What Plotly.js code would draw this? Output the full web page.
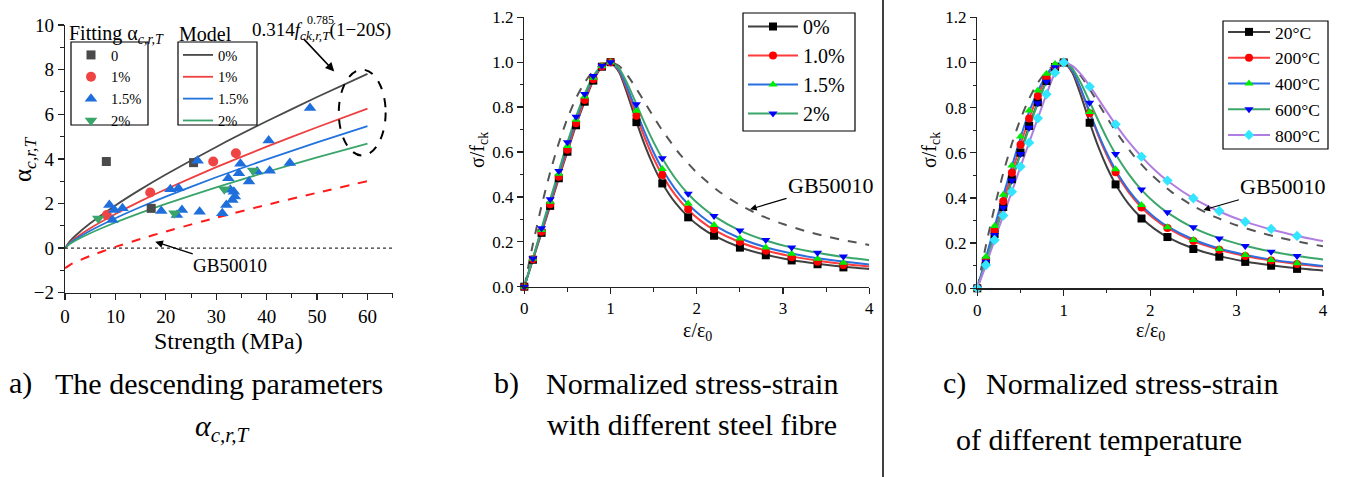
<!DOCTYPE html>
<html><head><meta charset="utf-8">
<script src="https://cdn.plot.ly/plotly-3.0.1.min.js"></script>
<style>html,body{margin:0;padding:0;background:#fff;}#chart{width:1359px;height:477px;}</style>
</head><body><div id="chart"></div>
<script>
// ---------- Panel a: descending parameter vs strength ----------
const strengthModel = [0, 1, 2, 5, 10, 15, 20, 30, 40, 50, 60];
const model0  = [0, 0.314, 0.541, 1.111, 1.914, 2.631, 3.297, 4.534, 5.683, 6.770, 7.812];
const model1  = [0, 0.251, 0.433, 0.889, 1.531, 2.105, 2.638, 3.627, 4.546, 5.416, 6.250];
const model15 = [0, 0.220, 0.379, 0.778, 1.340, 1.842, 2.308, 3.174, 3.978, 4.739, 5.468];
const model2  = [0, 0.188, 0.325, 0.667, 1.148, 1.579, 1.978, 2.720, 3.410, 4.062, 4.687];
const gbAlpha = [-0.905, -0.748, -0.635, -0.350, 0.052, 0.411, 0.744, 1.362, 1.937, 2.480, 3.001];

const fit0X = [8.2, 17.1, 25.5];
const fit0Y = [3.88, 1.78, 3.83];
const fit1X = [8.3, 16.9, 29.4, 33.9];
const fit1Y = [1.48, 2.49, 3.88, 4.25];
const fit15X = [8.8, 9.8, 11.4, 9.4, 19.1, 20.9, 22.2, 22.5, 23.2, 26.3, 26.7, 31.2, 32.0, 32.4, 32.8, 33.2, 33.5, 33.7, 34.5, 34.8, 36.5, 38.1, 40.4, 40.6, 44.6, 48.6];
const fit15Y = [1.93, 1.71, 1.78, 1.26, 1.66, 2.64, 1.48, 2.68, 1.71, 3.91, 1.63, 1.56, 1.93, 3.13, 2.61, 2.16, 2.53, 2.31, 3.36, 3.78, 2.98, 3.43, 4.82, 3.47, 3.81, 6.28];
const fit2X = [6.6, 21.7, 31.6, 37.3];
const fit2Y = [1.33, 1.56, 2.64, 3.48];

// ---------- Panels b, c: normalized stress-strain ----------
const strainLine  = [0, 0.1, 0.2, 0.3, 0.4, 0.5, 0.6, 0.7, 0.8, 0.9, 1.0, 1.1, 1.2, 1.3, 1.4, 1.5, 1.6, 1.75, 1.9, 2.05, 2.2, 2.5, 2.8, 3.1, 3.4, 3.7, 4.0];
const strainMarks = [0, 0.1, 0.2, 0.3, 0.4, 0.5, 0.6, 0.7, 0.8, 0.9, 1.0, 1.3, 1.6, 1.9, 2.2, 2.5, 2.8, 3.1, 3.4, 3.7];
const gbStrain = [0, 0.1, 0.2, 0.3, 0.4, 0.5, 0.6, 0.7, 0.8, 0.9, 1.0, 1.1, 1.2, 1.3, 1.4, 1.5, 1.6, 1.8, 2.0, 2.25, 2.5, 2.75, 3.0, 3.25, 3.5, 3.75, 4.0];
const gbStress = [0, 0.19, 0.36, 0.51, 0.64, 0.75, 0.84, 0.91, 0.96, 0.99, 1.0, 0.983, 0.939, 0.882, 0.819, 0.756, 0.696, 0.592, 0.508, 0.426, 0.364, 0.316, 0.279, 0.249, 0.224, 0.204, 0.186];

// steel fibre (panel b)
const fibreNames = ['0%', '1.0%', '1.5%', '2%'];
const fibre0Line  = [0, 0.12, 0.24, 0.36, 0.483, 0.601, 0.719, 0.824, 0.918, 0.98, 1.0, 0.955, 0.852, 0.735, 0.627, 0.536, 0.461, 0.374, 0.311, 0.263, 0.227, 0.176, 0.1425, 0.119, 0.102, 0.089, 0.079];
const fibre1Line  = [0, 0.122, 0.245, 0.367, 0.49, 0.61, 0.728, 0.832, 0.924, 0.981, 1.0, 0.961, 0.870, 0.762, 0.660, 0.571, 0.497, 0.409, 0.343, 0.292, 0.253, 0.198, 0.161, 0.135, 0.116, 0.101, 0.090];
const fibre15Line = [0, 0.125, 0.253, 0.378, 0.503, 0.627, 0.744, 0.847, 0.931, 0.983, 1.0, 0.965, 0.881, 0.781, 0.684, 0.598, 0.524, 0.435, 0.367, 0.315, 0.274, 0.216, 0.176, 0.148, 0.127, 0.112, 0.099];
const fibre2Line  = [0, 0.126, 0.26, 0.389, 0.515, 0.643, 0.757, 0.858, 0.938, 0.984, 1.0, 0.971, 0.900, 0.813, 0.724, 0.643, 0.572, 0.483, 0.413, 0.358, 0.3145, 0.250, 0.206, 0.174, 0.151, 0.132, 0.118];
const fibre0Mk  = [0, 0.12, 0.24, 0.36, 0.483, 0.601, 0.719, 0.824, 0.918, 0.98, 1.0, 0.733, 0.46, 0.309, 0.227, 0.174, 0.14, 0.117, 0.10, 0.086];
const fibre1Mk  = [0, 0.122, 0.245, 0.367, 0.49, 0.61, 0.728, 0.832, 0.924, 0.981, 1.0, 0.762, 0.497, 0.345, 0.256, 0.2, 0.16, 0.131, 0.111, 0.097];
const fibre15Mk = [0, 0.125, 0.253, 0.378, 0.503, 0.627, 0.744, 0.847, 0.931, 0.983, 1.0, 0.784, 0.524, 0.371, 0.275, 0.215, 0.175, 0.147, 0.125, 0.107];
const fibre2Mk  = [0, 0.126, 0.26, 0.389, 0.515, 0.643, 0.757, 0.858, 0.938, 0.984, 1.0, 0.813, 0.572, 0.414, 0.315, 0.25, 0.208, 0.175, 0.151, 0.134];

// temperature (panel c)
const tempNames = ['20°C', '200°C', '400°C', '600°C', '800°C'];
const temp20Line  = [0, 0.12, 0.24, 0.36, 0.483, 0.601, 0.719, 0.824, 0.918, 0.98, 1.0, 0.955, 0.852, 0.735, 0.627, 0.536, 0.461, 0.374, 0.311, 0.263, 0.227, 0.176, 0.1425, 0.119, 0.102, 0.089, 0.079];
const temp200Line = [0, 0.128, 0.258, 0.385, 0.512, 0.636, 0.752, 0.852, 0.933, 0.983, 1.0, 0.963, 0.877, 0.775, 0.676, 0.588, 0.514, 0.426, 0.358, 0.307, 0.267, 0.209, 0.171, 0.143, 0.123, 0.108, 0.096];
const temp400Line = [0, 0.137, 0.272, 0.41, 0.54, 0.667, 0.782, 0.872, 0.945, 0.99, 1.0, 0.965, 0.881, 0.781, 0.684, 0.598, 0.524, 0.435, 0.367, 0.315, 0.274, 0.216, 0.176, 0.148, 0.127, 0.112, 0.099];
const temp600Line = [0, 0.118, 0.236, 0.357, 0.477, 0.595, 0.711, 0.819, 0.915, 0.979, 1.0, 0.973, 0.908, 0.826, 0.743, 0.664, 0.595, 0.507, 0.436, 0.380, 0.335, 0.268, 0.222, 0.188, 0.163, 0.1435, 0.128];
const temp800Line = [0, 0.103, 0.214, 0.322, 0.428, 0.539, 0.645, 0.753, 0.859, 0.955, 1.0, 0.985, 0.947, 0.896, 0.839, 0.781, 0.726, 0.649, 0.583, 0.525, 0.476, 0.398, 0.340, 0.295, 0.260, 0.232, 0.209];
const temp20Mk  = [0, 0.12, 0.24, 0.36, 0.483, 0.601, 0.719, 0.824, 0.918, 0.98, 1.0, 0.733, 0.46, 0.309, 0.227, 0.174, 0.14, 0.117, 0.10, 0.086];
const temp200Mk = [0, 0.128, 0.258, 0.385, 0.512, 0.636, 0.752, 0.852, 0.933, 0.983, 1.0, 0.775, 0.514, 0.358, 0.267, 0.209, 0.171, 0.143, 0.123, 0.108];
const temp400Mk = [0, 0.14, 0.276, 0.414, 0.544, 0.672, 0.787, 0.876, 0.95, 0.993, 1.0, 0.781, 0.527, 0.369, 0.27, 0.214, 0.174, 0.147, 0.125, 0.111];
const temp600Mk = [0, 0.118, 0.236, 0.357, 0.477, 0.595, 0.711, 0.819, 0.915, 0.979, 1.0, 0.822, 0.595, 0.438, 0.337, 0.27, 0.221, 0.187, 0.162, 0.143];
const temp800Mk = [0, 0.103, 0.214, 0.322, 0.428, 0.539, 0.645, 0.753, 0.859, 0.955, 1.0, 0.893, 0.726, 0.583, 0.477, 0.399, 0.342, 0.295, 0.263, 0.232];

// ---------- build ----------
const W = 1359, H = 477;
const F = '"Liberation Serif", "Times New Roman", Times, serif';
const px = p => p / W;
const py = p => 1 - p / H;

const traces = [];

// Panel a model lines (legend2)
const modelSeries = [[model0, '0%', '#4a4a4a'], [model1, '1%', '#ee4040'], [model15, '1.5%', '#2273dd'], [model2, '2%', '#3aa56b']];
modelSeries.forEach(([y, name, c]) => traces.push({
  type: 'scatter', mode: 'lines', x: strengthModel, y, name, legend: 'legend2',
  line: {color: c, width: 1.8, shape: 'spline', smoothing: 0.6}, xaxis: 'x', yaxis: 'y', hoverinfo: 'skip'
}));
traces.push({type: 'scatter', mode: 'lines', x: strengthModel, y: gbAlpha, showlegend: false,
  line: {color: '#ff1a1a', width: 2, dash: 'dash', shape: 'spline', smoothing: 0.6}, xaxis: 'x', yaxis: 'y'});
const fitSeries = [[fit0X, fit0Y, '0', 'square', '#4a4a4a', 9], [fit1X, fit1Y, '1%', 'circle', '#ee4444', 10],
  [fit15X, fit15Y, '1.5%', 'triangle-up', '#1e6fdc', 11], [fit2X, fit2Y, '2%', 'triangle-down', '#3aa56b', 11]];
fitSeries.forEach(([x, y, name, sym, c, s]) => traces.push({
  type: 'scatter', mode: 'markers', x, y, name, legend: 'legend',
  marker: {symbol: sym, color: c, size: s, line: {width: 0}}, xaxis: 'x', yaxis: 'y', cliponaxis: false
}));

// Panels b & c
function addCurves(series, ax, legendId, msize) {
  traces.push({type: 'scatter', mode: 'lines', x: gbStrain, y: gbStress, showlegend: false,
    line: {color: '#555555', width: 2, dash: 'dash', shape: 'spline', smoothing: 0.6}, xaxis: 'x' + ax, yaxis: 'y' + ax});
  series.forEach(s => traces.push({type: 'scatter', mode: 'lines', x: strainLine, y: s.line, showlegend: false,
    line: {color: s.lc, width: 2, shape: 'spline', smoothing: 0.6}, xaxis: 'x' + ax, yaxis: 'y' + ax}));
  series.forEach(s => traces.push({type: 'scatter', mode: 'markers', x: strainMarks, y: s.mk, showlegend: false,
    marker: {symbol: s.sym, color: s.mc, size: msize, line: {width: 0}}, cliponaxis: false, xaxis: 'x' + ax, yaxis: 'y' + ax}));
  series.forEach(s => traces.push({type: 'scatter', mode: 'lines+markers', x: [null], y: [null], name: s.name, legend: legendId,
    line: {color: s.lc, width: 2}, marker: {symbol: s.sym, color: s.mc, size: msize}, xaxis: 'x' + ax, yaxis: 'y' + ax}));
}
addCurves([
  {name: fibreNames[0], line: fibre0Line, mk: fibre0Mk, lc: '#404040', mc: '#000000', sym: 'square'},
  {name: fibreNames[1], line: fibre1Line, mk: fibre1Mk, lc: '#ff3b3b', mc: '#ff0000', sym: 'circle'},
  {name: fibreNames[2], line: fibre15Line, mk: fibre15Mk, lc: '#2a6fe0', mc: '#00ee00', sym: 'triangle-up'},
  {name: fibreNames[3], line: fibre2Line, mk: fibre2Mk, lc: '#3aa66a', mc: '#0000ff', sym: 'triangle-down'}
], '2', 'legend3', 8);
addCurves([
  {name: tempNames[0], line: temp20Line, mk: temp20Mk, lc: '#404040', mc: '#000000', sym: 'square'},
  {name: tempNames[1], line: temp200Line, mk: temp200Mk, lc: '#ff3b3b', mc: '#ff0000', sym: 'circle'},
  {name: tempNames[2], line: temp400Line, mk: temp400Mk, lc: '#2a6fe0', mc: '#00ee00', sym: 'triangle-up'},
  {name: tempNames[3], line: temp600Line, mk: temp600Mk, lc: '#3aa66a', mc: '#0000ff', sym: 'triangle-down'},
  {name: tempNames[4], line: temp800Line, mk: temp800Mk, lc: '#b07ee0', mc: '#33e6ff', sym: 'diamond'}
], '3', 'legend4', 8);

function axis(domain, range, dtick, minorDtick, size, extra) {
  return Object.assign({
    domain, range, dtick, tick0: 0, showline: true, linecolor: '#222', linewidth: 1.3, mirror: false,
    ticks: 'outside', ticklen: 6, tickwidth: 1.3, tickcolor: '#222', showgrid: false, zeroline: false,
    tickfont: {family: F, size, color: '#000'},
    minor: {ticks: 'outside', ticklen: 3.5, tickwidth: 1, tickcolor: '#222', dtick: minorDtick, showgrid: false}
  }, extra || {});
}
function legendCfg(x, y, size, iw) {
  return {x: px(x), y: py(y), xanchor: 'left', yanchor: 'top', xref: 'paper', yref: 'paper',
    bgcolor: 'rgba(255,255,255,0)', borderwidth: 0,
    font: {family: F, size, color: '#000'}, itemwidth: iw, tracegroupgap: 0};
}
function txt(text, x, y, size, opts) {
  return Object.assign({text, xref: 'paper', yref: 'paper', x: px(x), y: py(y), xanchor: 'left', yanchor: 'middle',
    showarrow: false, font: {family: F, size, color: '#000'}}, opts || {});
}
function box(x0, y0, x1, y1) {
  return {type: 'rect', xref: 'paper', yref: 'paper', x0: px(x0), x1: px(x1), y0: py(y1), y1: py(y0),
    line: {color: '#000', width: 1.2}, fillcolor: 'rgba(0,0,0,0)'};
}

const annotations = [
  // axis titles
  txt('Strength (MPa)', 228, 341, 24, {xanchor: 'center'}),
  txt('α<sub><i>c,r,T</i></sub>', 24, 160, 25, {xanchor: 'center', textangle: -90}),
  txt('ε/ε<sub>0</sub>', 697, 331, 20, {xanchor: 'center'}),
  txt('σ/f<sub>ck</sub>', 479, 150, 20, {xanchor: 'center', textangle: -90}),
  txt('ε/ε<sub>0</sub>', 1150, 331, 20, {xanchor: 'center'}),
  txt('σ/f<sub>ck</sub>', 931, 150, 20, {xanchor: 'center', textangle: -90}),
  // legend titles panel a
  txt('Fitting α<sub><i>c,r,T</i></sub>', 67, 34, 20),
  txt('Model', 177, 34, 20),
  // formula
  txt('0.314<i>f</i><sub><i>ck,r,T</i></sub>(1−20<i>S</i>)', 250, 31, 19),
  txt('0.785', 305, 20, 12),
  {text: '', x: 53.4, y: 7.92, xref: 'x', yref: 'y', showarrow: true, ax: -32, ay: -34,
    arrowhead: 2, arrowsize: 1.1, arrowwidth: 1.6, arrowcolor: '#000'},
  // GB50010 labels
  {text: 'GB50010', x: 17.9, y: 0.28, xref: 'x', yref: 'y', showarrow: true, ax: 75, ay: 24,
    arrowhead: 2, arrowsize: 1.1, arrowwidth: 1.4, arrowcolor: '#000', font: {family: F, size: 19, color: '#000'}},
  {text: 'GB50010', x: 2.617, y: 0.345, xref: 'x2', yref: 'y2', showarrow: true, ax: 81, ay: -24,
    arrowhead: 2, arrowsize: 1.1, arrowwidth: 1.2, arrowcolor: '#000', font: {family: F, size: 22, color: '#000'}},
  {text: 'GB50010', x: 2.616, y: 0.347, xref: 'x3', yref: 'y3', showarrow: true, ax: 80, ay: -23,
    arrowhead: 2, arrowsize: 1.1, arrowwidth: 1.2, arrowcolor: '#000', font: {family: F, size: 22, color: '#000'}},
  // captions
  txt('a)', 7, 383, 30),
  txt('The descending parameters', 53, 383, 30),
  txt('<i>α</i><sub><i>c,r,T</i></sub>', 222, 428, 30, {xanchor: 'center'}),
  txt('b)', 492, 383, 30),
  txt('Normalized stress-strain', 544, 383, 30),
  txt('with different steel fibre', 545, 424, 30),
  txt('c)', 941, 383, 30),
  txt('Normalized stress-strain', 984, 383, 30),
  txt('of different temperature', 954, 439, 30)
];

const shapes = [
  {type: 'line', xref: 'x', yref: 'y', x0: 0, x1: 65, y0: 0, y1: 0, line: {color: '#333', width: 1.2, dash: 'dot'}},
  {type: 'circle', xref: 'x', yref: 'y', x0: 54.3, x1: 63.6, y0: 4.15, y1: 8.0, line: {color: '#000', width: 2, dash: 'dash'}},
  {type: 'line', xref: 'paper', yref: 'paper', x0: px(883), x1: px(883), y0: 0, y1: 1, line: {color: '#000', width: 1.5}},
  box(71, 42, 148, 125),
  box(178, 42, 257, 125),
  box(743, 13, 855, 131),
  box(1223, 21, 1328, 149)
];

const layout = {
  width: W, height: H, margin: {l: 0, r: 0, t: 0, b: 0},
  paper_bgcolor: '#fff', plot_bgcolor: 'rgba(0,0,0,0)',
  font: {family: F, color: '#000'}, showlegend: true, hovermode: false,
  xaxis: axis([px(65), px(392.7)], [0, 65], 10, 5, 19, {anchor: 'y'}),
  yaxis: axis([py(292.7), py(25)], [-2, 10], 2, 1, 19, {anchor: 'x'}),
  xaxis2: axis([px(524.3), px(869.3)], [0, 4], 1, 0.5, 17, {anchor: 'y2'}),
  yaxis2: axis([py(286.7), py(17.3)], [0, 1.2], 0.2, 0.1, 17, {anchor: 'x2', tickformat: '.1f'}),
  xaxis3: axis([px(977.3), px(1323)], [0, 4], 1, 0.5, 17, {anchor: 'y3'}),
  yaxis3: axis([py(288.3), py(17.3)], [0, 1.2], 0.2, 0.1, 17, {anchor: 'x3', tickformat: '.1f'}),
  legend: legendCfg(71, 39, 14.5, 30),
  legend2: legendCfg(178, 39, 14.5, 30),
  legend3: legendCfg(743, 7, 20, 50),
  legend4: legendCfg(1223, 14, 17.5, 42),
  annotations, shapes
};

Plotly.newPlot('chart', traces, layout, {staticPlot: true, displayModeBar: false});
</script></body></html>
